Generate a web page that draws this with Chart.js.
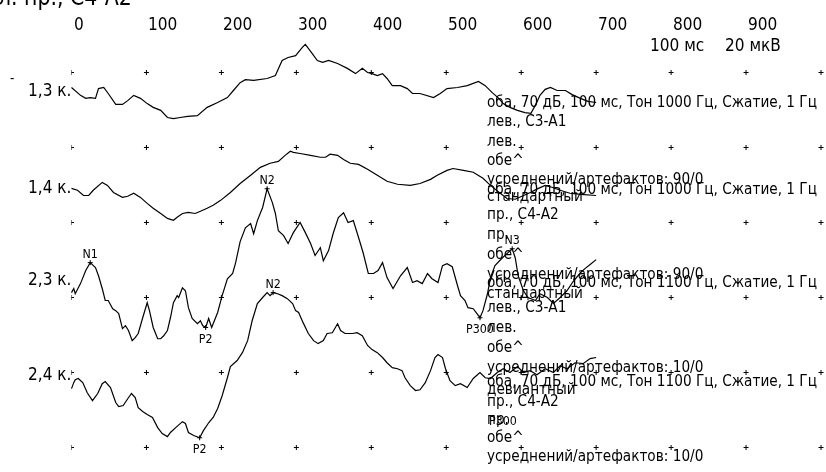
<!DOCTYPE html>
<html><head><meta charset="utf-8">
<script src="https://cdn.jsdelivr.net/npm/chart.js@4.4.1/dist/chart.umd.min.js"></script>
<style>html,body{margin:0;padding:0;background:#fff;overflow:hidden}canvas{display:block}</style>
</head><body>
<canvas id="c" width="826" height="472" style="width:826px;height:472px"></canvas>
<script>
// ---- data (time in ms, amplitude in µV, negative = up) ----
const xTickLabels = [0,100,200,300,400,500,600,700,800,900];
const gridMs = [0,100,200,300,400,500,600,700,800,900,1000];
const gridUv = [0,20,40,60,80,100];
const traceNames = ['1,3 к.','1,4 к.','2,3 к.','2,4 к.'];

const t1Ms = [0,12,19,25,32,36,43,49,59,68,75,83,92,101,109,119,128,136,145,155,168,181,195,208,216,225,232,243,261,272,281,289,299,308,312,321,328,335,343,355,368,379,388,395,401,408,415,421,428,439,448,455,465,483,492,501,515,528,543,552,561,569,576,585,595,605,613,620,625,632,639,648,659,668,679,689,700];
const t1Uv = [0,2.1,2.9,2.7,2.9,0.3,0,1.6,4.5,4.5,3.5,2.1,2.9,4.3,5.3,6.1,8.0,8.3,8.0,7.7,7.5,5.3,4.0,2.7,0.8,-1.3,-2.1,-1.9,-2.4,-3.2,-7.2,-8.0,-8.5,-10.7,-11.5,-9.1,-7.2,-6.7,-7.2,-6.4,-5.1,-3.7,-5.1,-4.0,-3.7,-3.2,-3.7,-2.4,-0.5,-0.5,0.3,1.6,1.6,2.7,1.6,0.3,0,-0.5,-1.6,-0.5,1.3,2.7,4.3,5.3,6.1,6.7,6.9,4.3,2.1,0.5,0,0.8,0.8,1.9,2.9,3.7,4.0];

const t2Ms = [0,8,16,23,29,41,48,56,68,75,83,92,101,109,119,128,136,141,148,156,165,172,181,189,199,212,225,239,252,265,276,285,292,296,305,319,332,339,345,355,363,372,383,395,408,421,435,452,465,479,488,501,509,523,536,549,559,572,581,592,601,612,623,632,641,652,665,679,700];
const t2Uv = [0,0.5,1.9,1.9,0.5,-1.6,-0.8,1.1,2.4,2.1,1.3,2.4,4.0,5.3,6.7,8.0,8.5,7.7,6.7,6.4,6.7,6.1,5.3,4.5,3.2,1.1,-1.3,-3.5,-5.6,-6.7,-7.2,-8.8,-9.9,-9.6,-9.3,-8.8,-8.3,-8.3,-9.1,-8.8,-7.7,-6.7,-6.4,-5.1,-3.5,-1.9,-1.1,-0.8,-1.3,-2.4,-3.5,-4.8,-5.3,-4.8,-4.3,-2.7,-0.8,1.3,2.7,2.9,2.1,1.1,0,-0.8,-0.3,0.5,1.3,1.6,1.9];

const t3Ms = [0,3,5,12,19,25,32,36,41,45,49,55,59,63,68,72,76,81,85,89,95,101,104,109,115,119,123,128,132,136,141,143,148,152,156,161,168,172,175,179,183,187,189,195,201,208,215,219,225,232,239,243,248,255,261,268,272,276,283,289,296,305,312,319,325,332,336,343,349,356,363,369,376,383,389,396,403,409,415,421,429,439,448,455,461,468,475,481,489,495,501,508,515,519,525,529,536,541,545,549,555,559,565,575,581,588,592,596,603,609,619,625,635,643,652,661,669,679,685,692,700];
const t3Uv = [0,-1.1,0.3,-2.4,-5.9,-8.0,-6.7,-4.5,-1.1,2.1,2.1,4.3,4.8,5.6,9.6,8.8,10.1,12.8,12.0,10.9,6.7,2.7,4.8,9.3,12.3,12.3,11.5,10.1,6.7,2.7,0.8,1.3,-1.3,-0.5,4.0,6.9,8.3,7.5,8.8,9.3,6.9,9.3,8.3,5.3,0.8,-3.7,-5.1,-8.0,-13.6,-17.3,-18.4,-15.7,-19.2,-22.7,-27.7,-24.0,-21.1,-16.5,-15.2,-13.1,-16.0,-18.7,-16.0,-13.1,-9.9,-12.0,-8.5,-11.2,-15.7,-20.0,-21.3,-18.7,-19.2,-14.7,-10.7,-5.1,-5.1,-5.9,-8.0,-4.0,-1.1,-4.5,-6.7,-2.7,-3.2,-2.4,-5.1,-3.7,-2.7,-7.2,-7.7,-6.9,-1.9,0.8,2.1,4.0,4.3,5.6,6.7,4.8,0.3,-4.0,-7.2,-9.3,-10.4,-11.7,-9.3,-4.5,-0.5,1.3,2.1,0.3,1.3,2.9,1.3,-0.5,-2.9,-5.3,-6.4,-7.5,-8.8];

const t4Ms = [0,3,5,9,15,21,28,35,41,45,52,59,63,69,75,80,85,89,95,101,108,115,121,128,132,139,148,152,156,163,171,176,183,189,195,201,208,212,221,228,235,241,248,255,261,265,269,275,281,288,295,299,303,309,316,323,329,336,341,348,355,359,365,375,381,388,395,401,408,415,421,428,435,441,445,452,459,465,472,479,485,489,495,499,505,512,519,528,536,545,552,559,568,576,585,595,603,612,621,632,643,652,661,672,683,692,700];
const t4Uv = [0,-1.6,-2.4,-2.7,-1.6,1.1,3.2,1.3,-1.3,-1.9,-0.3,3.7,4.8,4.5,2.7,1.3,2.4,5.1,6.1,6.9,7.7,10.4,12.0,12.8,11.7,10.4,8.8,9.3,11.7,12.5,13.1,11.2,9.1,7.7,5.3,1.9,-2.9,-5.9,-7.5,-9.6,-12.8,-18.1,-22.7,-24.3,-25.6,-24.8,-25.6,-25.3,-24.8,-24.0,-22.7,-20.8,-20.3,-17.6,-14.7,-12.8,-12.0,-12.8,-14.7,-14.9,-17.3,-15.5,-14.7,-14.7,-14.9,-14.1,-11.5,-10.4,-9.6,-8.3,-6.9,-5.6,-5.3,-4.8,-2.9,-0.8,0.5,0.3,-1.6,-4.8,-8.3,-9.1,-8.3,-5.3,-2.1,-0.8,-1.3,-0.3,-2.7,-4.3,-2.9,-2.7,-4.3,-5.3,-4.3,-5.9,-4.3,-4.8,-3.7,-5.3,-4.3,-6.1,-5.3,-6.9,-6.7,-8.0,-8.3];

const peakNames = ['N1','P2','N2','P300','N3','P2','N2'];
const peakTrace = [2,2,2,2,2,3,3];
const peakIndex = [5,39,54,98,105,30,46];

const block1 = ['оба, 70 дБ, 100 мс, Тон 1000 Гц, Сжатие, 1 Гц','лев., С3-А1','лев.','обе^','усреднений/артефактов: 90/0','стандартный'];
const block2 = ['оба, 70 дБ, 100 мс, Тон 1000 Гц, Сжатие, 1 Гц','пр., С4-А2','пр.','обе^','усреднений/артефактов: 90/0','стандартный'];
const block3 = ['оба, 70 дБ, 100 мс, Тон 1100 Гц, Сжатие, 1 Гц','лев., С3-А1','лев.','обе^','усреднений/артефактов: 10/0','девиантный'];
const block4 = ['оба, 70 дБ, 100 мс, Тон 1100 Гц, Сжатие, 1 Гц','пр., С4-А2','пр.','обе^','усреднений/артефактов: 10/0'];
const unitLabels = ['100 мс','20 мкВ'];
const titleText = 'л. пр., С4-А2';

// ---- layout ----
const FONT = '"DejaVu Sans Condensed","DejaVu Sans",sans-serif';
const traceOffsets = [4.0, 30.9, 58.7, 84.3];
const traceLabelY = [96, 193, 285, 380];
const blockLines = [[103,122,142,161,180,197],[190,215,235,255,275,294],[283,308,328,348,368,390],[382,402,420,438,457]];
const blocks = [block1, block2, block3, block4];

const traces = [[t1Ms,t1Uv],[t2Ms,t2Uv],[t3Ms,t3Uv],[t4Ms,t4Uv]];
const gridPts = [];
gridMs.forEach(x => gridUv.forEach(y => gridPts.push({x, y})));
const peakPts = peakNames.map((n,i) => {
  const tr = traces[peakTrace[i]];
  return {x: tr[0][peakIndex[i]], y: traceOffsets[peakTrace[i]] + tr[1][peakIndex[i]]};
});

const datasets = traces.map((tr, i) => ({
  data: tr[0].map((t, k) => ({x: t, y: traceOffsets[i] + tr[1][k]})),
  showLine: true, borderColor: '#000', borderWidth: 1.2, pointRadius: 0, tension: 0, clip: false
}));
datasets.push({data: gridPts, showLine: false, pointStyle: 'cross', pointRadius: 2.5, borderColor: '#000', borderWidth: 1, clip: {left: 0, top: 5, right: 5, bottom: 5}});
datasets.push({data: peakPts, showLine: false, pointStyle: 'cross', pointRadius: 2.5, borderColor: '#000', borderWidth: 1, clip: false});

let HS = 1;
function txt(ctx, s, x, y, size, align, base) {
  ctx.save();
  ctx.font = size + 'px ' + FONT;
  ctx.textBaseline = base || 'alphabetic';
  ctx.fillStyle = '#000';
  const w = ctx.measureText(s).width * HS;
  let x0 = x;
  if (align === 'center') x0 = x - w / 2;
  if (align === 'right') x0 = x - w;
  ctx.translate(x0, y);
  ctx.scale(HS, 1);
  ctx.textAlign = 'left';
  ctx.fillText(s, 0, 0);
  ctx.restore();
}

const textPlugin = {
  id: 'texts',
  afterDraw(chart) {
    const ctx = chart.ctx;
    const xs = chart.scales.x, ys = chart.scales.y;
    ctx.save();
    ctx.font = '16px ' + FONT;
    HS = 330 / ctx.measureText(block1[0]).width;
    ctx.restore();
    txt(ctx, titleText, -2, 5, 24);
    xTickLabels.forEach(v => txt(ctx, String(v), Math.round(xs.getPixelForValue(v)) + 2, 30, 18));
    txt(ctx, unitLabels[0], 650, 51, 18);
    txt(ctx, unitLabels[1], 725, 51, 18);
    txt(ctx, '-', 10, 83, 14);
    traceNames.forEach((n, i) => txt(ctx, n, 28, traceLabelY[i], 18));
    blocks.forEach((b, i) => b.forEach((line, k) => txt(ctx, line, 487, blockLines[i][k], 16, 'left', 'middle')));
    peakNames.forEach((n, i) => {
      const px = xs.getPixelForValue(peakPts[i].x), py = ys.getPixelForValue(peakPts[i].y);
      const up = n[0] === 'N';
      txt(ctx, n, px, up ? py - 5 : py + 15, 13, 'center');
    });
    txt(ctx, 'P300', 503, 425, 13, 'center');
  }
};

new Chart(document.getElementById('c'), {
  type: 'scatter',
  data: {datasets},
  options: {
    responsive: false, animation: false, devicePixelRatio: 1,
    layout: {padding: {left: 71.5, right: 4.5, top: 72.5, bottom: 24.5}},
    plugins: {legend: {display: false}, tooltip: {enabled: false}},
    scales: {
      x: {type: 'linear', min: 0, max: 1000, display: false},
      y: {type: 'linear', min: 0, max: 100, reverse: true, display: false}
    }
  },
  plugins: [textPlugin]
});
</script>
</body></html>
